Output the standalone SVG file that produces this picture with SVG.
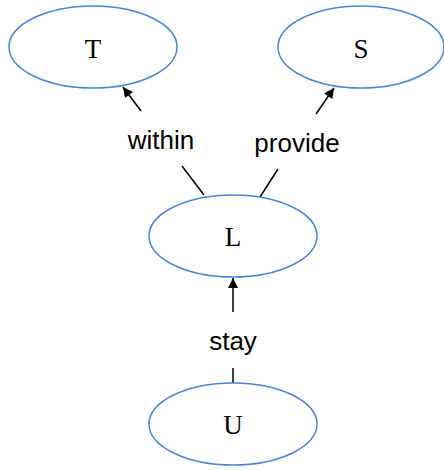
<svg xmlns="http://www.w3.org/2000/svg" width="444" height="470" viewBox="0 0 444 470">
<defs>
<marker id="arr" viewBox="0 0 10 10" refX="10" refY="5" markerWidth="15" markerHeight="10" markerUnits="userSpaceOnUse" orient="auto">
<path d="M0,0 L10,5 L0,10 Z" fill="#000"/>
</marker>
<style>
.node ellipse{fill:#fff;stroke:#4a86d8;stroke-width:1.5}
.nt{font-family:"Liberation Serif","Times New Roman",serif;font-size:27px;fill:#000;text-anchor:middle}
.edges line{stroke:#000;stroke-width:1.5}
.lbl{font-family:"Liberation Sans",Arial,sans-serif;font-size:26px;fill:#000;text-anchor:middle}
</style>
</defs>
<rect width="444" height="470" fill="#fff"/>
<g class="edges">
<line x1="182" y1="166" x2="204" y2="195"/>
<line x1="141" y1="111" x2="123" y2="87" marker-end="url(#arr)"/>
<line x1="260" y1="197" x2="278" y2="169"/>
<line x1="316" y1="114" x2="334" y2="88" marker-end="url(#arr)"/>
<line x1="233" y1="368" x2="233" y2="383"/>
<line x1="233" y1="312" x2="233" y2="278" marker-end="url(#arr)"/>
<text class="lbl" x="161" y="149">within</text>
<text class="lbl" x="297" y="152">provide</text>
<text class="lbl" x="233" y="350">stay</text>
</g>
<g id="T" class="node"><ellipse cx="93" cy="47" rx="84" ry="41"/><text class="nt" x="93" y="58">T</text></g>
<g id="S" class="node"><ellipse cx="361" cy="47" rx="83" ry="41"/><text class="nt" x="361" y="58">S</text></g>
<g id="L" class="node"><ellipse cx="233" cy="236" rx="84" ry="41"/><text class="nt" x="233" y="246">L</text></g>
<g id="U" class="node"><ellipse cx="233" cy="424" rx="84" ry="41"/><text class="nt" x="233" y="434">U</text></g>
</svg>
